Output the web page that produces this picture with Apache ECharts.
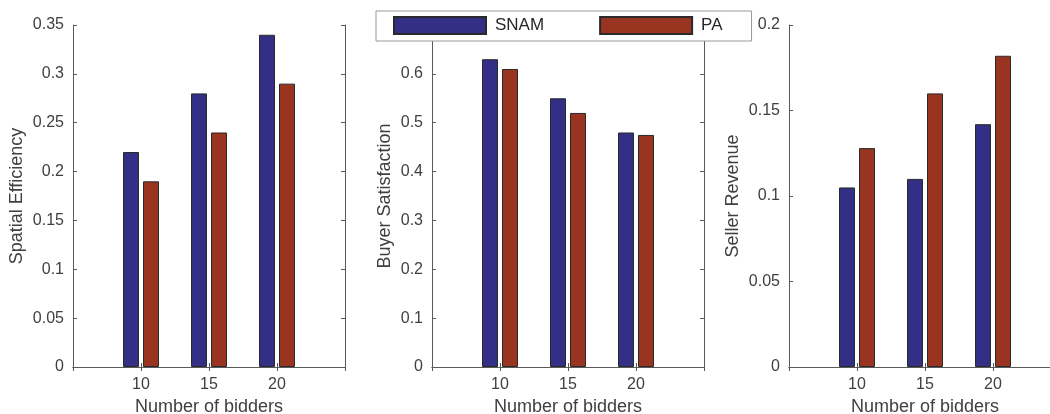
<!DOCTYPE html>
<html>
<head>
<meta charset="utf-8">
<title>Bidders comparison</title>
<script src="https://cdn.jsdelivr.net/npm/echarts@6/dist/echarts.min.js"></script>
<style>
  html, body { margin: 0; padding: 0; background: #fff; }
  #chart { width: 1050px; height: 414px; }
</style>
</head>
<body>
<div id="chart"></div>
<script>
// data
const bidders = [10, 15, 20];
const seriesNames = ['SNAM', 'PA'];
const spatialSNAM = [0.22, 0.28, 0.34];
const spatialPA = [0.19, 0.24, 0.29];
const buyerSNAM = [0.63, 0.55, 0.48];
const buyerPA = [0.61, 0.52, 0.475];
const sellerSNAM = [0.105, 0.110, 0.142];
const sellerPA = [0.128, 0.160, 0.182];

const blue = '#332e86';
const red = '#98341f';
const axisColor = '#5a5a5a';
const textColor = '#404040';
const font = '"Liberation Sans", Arial, Helvetica, sans-serif';

const chart = echarts.init(document.getElementById('chart'));

// one MATLAB-like panel: box axes, inward ticks
const panels = [
  { left: 73, yName: 'Spatial Efficiency', yMax: 0.35, yStep: 0.05, nameGap: 47, snam: spatialSNAM, pa: spatialPA },
  { left: 432, yName: 'Buyer Satisfaction', yMax: 0.7, yStep: 0.1, nameGap: 38, snam: buyerSNAM, pa: buyerPA },
  { left: 789, yName: 'Seller Revenue', yMax: 0.2, yStep: 0.05, nameGap: 47, snam: sellerSNAM, pa: sellerPA }
];

const grid = [], xAxis = [], yAxis = [], series = [];
const line = { show: true, lineStyle: { color: axisColor, width: 1 } };
const tick = { show: true, inside: true, length: 4, lineStyle: { color: axisColor } };

panels.forEach(function (p, i) {
  grid.push({ left: p.left, top: 25, width: 272, height: 342, outerBoundsMode: 'none', containLabel: false });
  xAxis.push({
    type: 'value', gridIndex: i, min: 5, max: 25, interval: 5,
    name: 'Number of bidders', nameLocation: 'middle', nameGap: 30,
    nameTextStyle: { color: textColor, fontSize: 18, fontFamily: font },
    axisLine: line, axisTick: tick, splitLine: { show: false },
    axisLabel: {
      color: textColor, fontSize: 16, fontFamily: font, margin: 10,
      formatter: function (v) { return bidders.indexOf(v) >= 0 ? String(v) : ''; }
    }
  });
  xAxis.push({
    type: 'value', gridIndex: i, position: 'top', min: 5, max: 25, interval: 5,
    axisLine: line, axisTick: tick, axisLabel: { show: false }, splitLine: { show: false }
  });
  yAxis.push({
    type: 'value', gridIndex: i, min: 0, max: p.yMax, interval: p.yStep,
    name: p.yName, nameLocation: 'middle', nameGap: p.nameGap,
    nameTextStyle: { color: textColor, fontSize: 18, fontFamily: font },
    axisLine: line, axisTick: tick, splitLine: { show: false },
    axisLabel: { color: textColor, fontSize: 16, fontFamily: font, margin: 9 }
  });
  yAxis.push({
    type: 'value', gridIndex: i, position: 'right', min: 0, max: p.yMax, interval: p.yStep,
    axisLine: line, axisTick: tick, axisLabel: { show: false }, splitLine: { show: false }
  });
  [[seriesNames[0], p.snam, blue], [seriesNames[1], p.pa, red]].forEach(function (s) {
    series.push({
      name: s[0], type: 'bar', xAxisIndex: i * 2, yAxisIndex: i * 2,
      data: bidders.map(function (b, k) { return [b, s[1][k]]; }),
      barWidth: 16, barGap: '25%',
      itemStyle: { color: s[2], borderColor: '#2a2a2a', borderWidth: 1 },
      emphasis: { disabled: true }
    });
  });
});

chart.setOption({
  animation: false,
  textStyle: { fontFamily: font },
  legend: {
    data: seriesNames, left: 376, top: 11,
    icon: 'rect', itemWidth: 92, itemHeight: 17, itemGap: 55,
    padding: [5, 29, 6, 17],
    backgroundColor: '#fff', borderColor: '#999', borderWidth: 1, borderRadius: 0,
    selectedMode: false,
    textStyle: { color: '#262626', fontSize: 17, fontFamily: font, padding: [0, 0, 0, 4] }
  },
  grid: grid,
  xAxis: xAxis,
  yAxis: yAxis,
  series: series
});
</script>
</body>
</html>
